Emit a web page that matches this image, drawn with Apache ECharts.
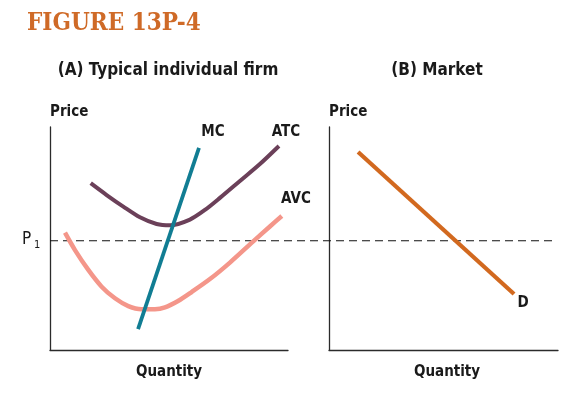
<!DOCTYPE html>
<html>
<head>
<meta charset="utf-8">
<script src="https://cdn.jsdelivr.net/npm/echarts@6/dist/echarts.min.js"></script>
<style>html,body{margin:0;padding:0;background:#fff;}#c{width:584px;height:409px;}</style>
</head>
<body>
<div id="c"></div>
<script>
// Panel A: typical individual firm (Quantity 0-100, Price 0-100)
const atcCurve = [[17.1,74.8],[23.8,69.5],[30.8,64.3],[37.8,59.5],[44.8,56.5],[50.4,55.9],[58.8,58.5],[65.1,62.8],[71.4,68.2],[79.8,75.8],[88.2,83.4],[96.2,91.5]];
const avcCurve = [[6.3,52.6],[10.5,44.8],[16.1,35.9],[21.7,28.4],[27.3,23.2],[32.9,19.7],[38.5,18.3],[44.1,18.3],[48.3,19.1],[53.8,22.0],[59.5,26.0],[67.2,31.8],[75.6,39.2],[85.4,48.7],[92.4,55.4],[97.4,60.1]];
const mcLine = [[37.0,9.4],[62.6,90.6]];
// Panel B: market
const demandLine = [[12.7,88.8],[80.8,25.1]];
// Market price P1 (shared price scale)
const priceP1 = 49;
const p1Span = [0, 100];

const FONT = '"Liberation Sans Narrow","DejaVu Sans Condensed","Liberation Sans",sans-serif';
const chart = echarts.init(document.getElementById('c'), null, {renderer:'canvas'});

const axisLineStyle = {show:true, lineStyle:{color:'#2b2b2b', width:1.3}};
function valAxis(idx, show){
  return {type:'value', gridIndex:idx, min:0, max:100, show:show,
    axisLine:axisLineStyle, axisTick:{show:false}, axisLabel:{show:false}, splitLine:{show:false}};
}
function txt(text, left, top, size, opts){
  return Object.assign({text:text, left:left, top:top,
    textStyle:{fontFamily:FONT, fontWeight:'bold', fontSize:size, color:'#1a1a1a'}, padding:0}, opts||{});
}

chart.setOption({
  animation:false,
  grid:[
    {left:50, top:127, width:238, height:223},
    {left:329, top:127, width:229, height:223},
    {left:50, top:127, width:503, height:223}
  ],
  xAxis:[valAxis(0,true), valAxis(1,true), valAxis(2,false)],
  yAxis:[valAxis(0,true), valAxis(1,true), valAxis(2,false)],
  graphic:[
    {type:'text', x:27, y:24, scaleX:0.9, silent:true,
      style:{text:'FIGURE 13P-4', fill:'#cf6a27', verticalAlign:'middle',
        font:'bold 24px "DejaVu Serif", serif'}}
  ],
  title:[
    txt('(A) Typical individual firm', 168, 62, 17, {textAlign:'center'}),
    txt('(B) Market', 437, 62, 17, {textAlign:'center'}),
    txt('Price', 50, 105, 15),
    txt('Price', 329, 105, 15),
    txt('Quantity', 169, 365, 15, {textAlign:'center'}),
    txt('Quantity', 447, 365, 15, {textAlign:'center'}),
    txt('MC', 213, 125, 15, {textAlign:'center'}),
    txt('ATC', 286, 125, 15, {textAlign:'center'}),
    txt('AVC', 296, 192, 15, {textAlign:'center'}),
    txt('D', 523, 296, 15, {textAlign:'center'}),
    {text:'P', left:22, top:231, padding:0,
      textStyle:{fontFamily:FONT, fontSize:17, fontWeight:'normal', color:'#1a1a1a'}},
    {text:'1', left:34, top:240, padding:0,
      textStyle:{fontFamily:FONT, fontSize:11, fontWeight:'normal', color:'#1a1a1a'}}
  ],
  series:[
    {type:'line', name:'P1', xAxisIndex:2, yAxisIndex:2, data:p1Span.map(x=>[x,priceP1]),
      showSymbol:false, silent:true, z:1,
      lineStyle:{color:'#111', width:1.2, type:[8,5]}},
    {type:'line', name:'ATC', xAxisIndex:0, yAxisIndex:0, data:atcCurve, smooth:0.3,
      showSymbol:false, silent:true, clip:false, z:3,
      lineStyle:{color:'#6b4059', width:4, cap:'butt'}},
    {type:'line', name:'AVC', xAxisIndex:0, yAxisIndex:0, data:avcCurve, smooth:0.3,
      showSymbol:false, silent:true, clip:false, z:3,
      lineStyle:{color:'#f4968a', width:4.5, cap:'butt'}},
    {type:'line', name:'MC', xAxisIndex:0, yAxisIndex:0, data:mcLine,
      showSymbol:false, silent:true, clip:false, z:4,
      lineStyle:{color:'#117d93', width:3.8, cap:'butt'}},
    {type:'line', name:'D', xAxisIndex:1, yAxisIndex:1, data:demandLine,
      showSymbol:false, silent:true, clip:false, z:3,
      lineStyle:{color:'#d2691f', width:4.2, cap:'butt'}}
  ]
});
</script>
</body>
</html>
